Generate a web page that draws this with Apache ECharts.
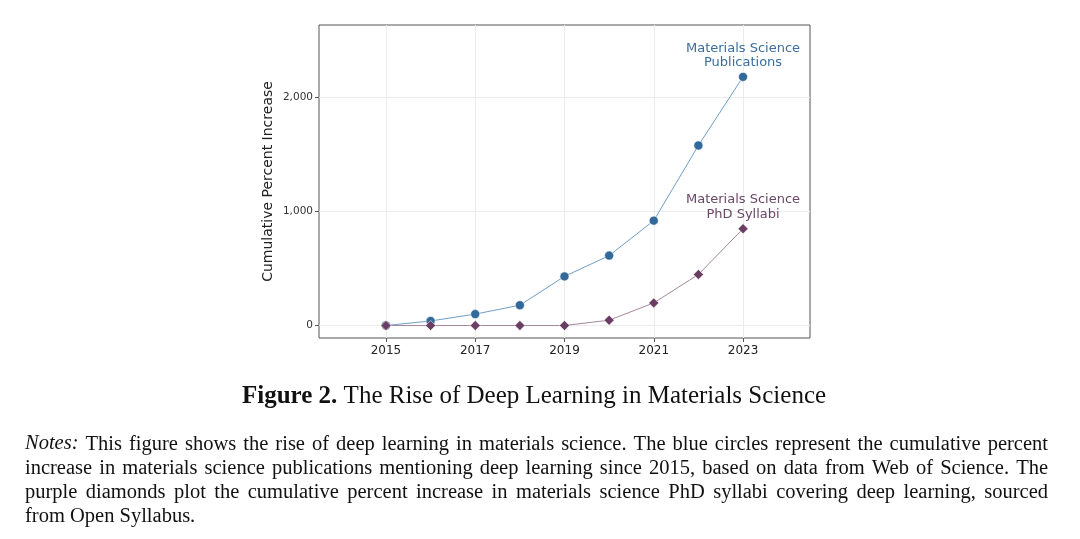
<!DOCTYPE html>
<html>
<head>
<meta charset="utf-8">
<script src="https://cdn.jsdelivr.net/npm/echarts@6/dist/echarts.min.js"></script>
<style>
html,body{margin:0;padding:0;background:#fff;}
#c{width:1080px;height:539px;}
</style>
</head>
<body>
<div id="c"></div>
<script>
// ---- data ----
const years = [2015, 2016, 2017, 2018, 2019, 2020, 2021, 2022, 2023];
const publications = [0, 40, 100, 178, 430, 612, 918, 1576, 2176];
const syllabi = [0, 0, 0, 0, 0, 47, 198, 447, 847];
const xTicks = [2015, 2017, 2019, 2021, 2023];
const yTicks = [0, 1000, 2000];
const pubLabel = 'Materials Science\nPublications';
const sylLabel = 'Materials Science\nPhD Syllabi';
const yAxisTitle = 'Cumulative Percent Increase';
const figureTitleBold = 'Figure 2.';
const figureTitleRest = ' The Rise of Deep Learning in Materials Science';
const notesLead = 'Notes:';
const notesLines = [
  'This figure shows the rise of deep learning in materials science. The blue circles represent the cumulative percent',
  'increase in materials science publications mentioning deep learning since 2015, based on data from Web of Science. The',
  'purple diamonds plot the cumulative percent increase in materials science PhD syllabi covering deep learning, sourced',
  'from Open Syllabus.'
];

const serif = '"Liberation Serif", "DejaVu Serif", serif';
const sans = '"DejaVu Sans", sans-serif';
const blue = '#33699a', blueLine = '#6f9ec6', blueText = '#3b6e9e';
const purple = '#6a3e62', purpleLine = '#a4889d', purpleText = '#6b4767';

function buildData(vals, labelText, labelColor) {
  return years.map((y, i) => {
    const item = { value: [y, vals[i]] };
    if (i === years.length - 1) {
      item.label = {
        show: true, position: 'top', distance: 2,
        formatter: labelText, color: labelColor,
        fontFamily: sans, fontSize: 13, lineHeight: 14.5, align: 'center'
      };
    }
    return item;
  });
}

// ---- notes, justified ----
const noteFont = 20.5;
const cv = document.createElement('canvas').getContext('2d');
function measure(t, italic) {
  cv.font = (italic ? 'italic ' : '') + noteFont + 'px ' + serif;
  return cv.measureText(t).width;
}
const noteLeft = 25, noteRight = 1048;
const noteY = [446, 470, 494, 518];
const graphics = [];
notesLines.forEach((line, li) => {
  let words = line.split(' ').map(w => ({ t: w, it: false }));
  if (li === 0) words.unshift({ t: notesLead, it: true });
  const widths = words.map(w => measure(w.t, w.it));
  const total = widths.reduce((a, b) => a + b, 0);
  const last = li === notesLines.length - 1;
  const gap = last ? measure(' ', false) : (noteRight - noteLeft - total) / (words.length - 1);
  let x = noteLeft;
  words.forEach((w, k) => {
    graphics.push({
      type: 'text', left: x, top: noteY[li] - noteFont * 0.6,
      style: { text: w.t, font: (w.it ? 'italic ' : '') + noteFont + 'px ' + serif, fill: '#111' }
    });
    x += widths[k] + gap;
  });
});
graphics.push({
  type: 'text', left: 242, top: 384,
  style: {
    text: '{b|' + figureTitleBold + '}' + figureTitleRest,
    font: '25px ' + serif, fill: '#111',
    rich: { b: { fontWeight: 'bold', fontSize: 25, fontFamily: serif, fill: '#111' } }
  }
});

const chart = echarts.init(document.getElementById('c'), null, { renderer: 'canvas' });
chart.setOption({
  animation: false,
  backgroundColor: '#fff',
  grid: { left: 319, right: 270, top: 25, bottom: 201, show: true, borderColor: '#555', borderWidth: 1, backgroundColor: '#fff' },
  xAxis: {
    type: 'value', min: 2013.5, max: 2024.5,
    axisLine: { show: false, onZero: false },
    axisTick: { show: true, customValues: xTicks, length: 4, lineStyle: { color: '#555' } },
    axisLabel: { customValues: xTicks, color: '#222', fontFamily: sans, fontSize: 12, margin: 7, formatter: v => String(v) },
    splitLine: { show: true, lineStyle: { color: '#ececec', width: 1 } }
  },
  yAxis: {
    type: 'value', min: -109, max: 2630,
    name: yAxisTitle, nameLocation: 'middle', nameGap: 44,
    nameTextStyle: { fontFamily: sans, fontSize: 14, color: '#222', padding: [0, 0, 0, 0] },
    axisLine: { show: false, onZero: false },
    axisTick: { show: true, customValues: yTicks, length: 4, lineStyle: { color: '#555' } },
    axisLabel: {
      customValues: yTicks, color: '#333', fontFamily: sans, fontSize: 10.5, margin: 6,
      formatter: v => v.toLocaleString('en-US')
    },
    splitLine: { show: true, lineStyle: { color: '#ececec', width: 1 } }
  },
  series: [
    {
      type: 'line', data: buildData(publications, pubLabel, blueText),
      symbol: 'circle', symbolSize: 9,
      lineStyle: { color: blueLine, width: 1 },
      itemStyle: { color: blue, borderColor: '#fff', borderWidth: 0.5 },
      z: 3
    },
    {
      type: 'line', data: buildData(syllabi, sylLabel, purpleText),
      symbol: 'diamond', symbolSize: 10,
      lineStyle: { color: purpleLine, width: 1 },
      itemStyle: { color: purple, borderColor: '#fff', borderWidth: 0.5 },
      z: 4
    }
  ],
  graphic: graphics
});
</script>
</body>
</html>
